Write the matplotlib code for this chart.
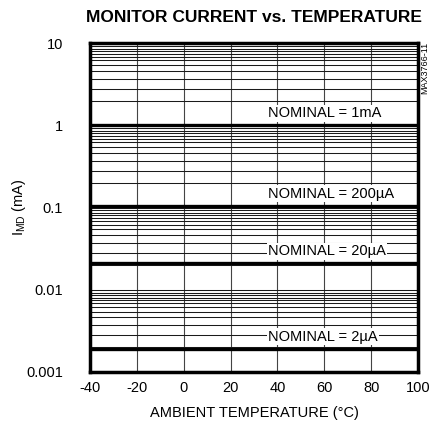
import matplotlib
matplotlib.use("Agg")
import matplotlib.pyplot as plt
from matplotlib.ticker import LogLocator, NullFormatter, FixedLocator
from matplotlib import font_manager
import numpy as np

names = {f.name for f in font_manager.fontManager.ttflist}
narrow = [n for n in ['Liberation Sans Narrow', 'Liberation Sans'] if n in names]
plt.rcParams['font.family'] = narrow + ['DejaVu Sans']
title_family = [n for n in ['DejaVu Sans Condensed', 'Liberation Sans Narrow', 'Liberation Sans'] if n in names] + ['DejaVu Sans']

# ---- data ----
temperature = [-40, -20, 0, 20, 40, 60, 80, 100]
nominal_labels = ["NOMINAL = 1mA", "NOMINAL = 200µA", "NOMINAL = 20µA", "NOMINAL = 2µA"]
current_1mA = [1.0, 1.0, 1.0, 1.0, 1.0, 1.0, 1.0, 1.0]
current_200uA = [0.105, 0.105, 0.105, 0.105, 0.105, 0.105, 0.105, 0.105]
current_20uA = [0.021, 0.021, 0.021, 0.021, 0.021, 0.021, 0.021, 0.021]
current_2uA = [0.0019, 0.0019, 0.0019, 0.0019, 0.0019, 0.0019, 0.0019, 0.0019]
x_ticks = [-40, -20, 0, 20, 40, 60, 80, 100]
y_ticks = [0.001, 0.01, 0.1, 1, 10]
y_ticklabels = ["0.001", "0.01", "0.1", "1", "10"]

series = [current_1mA, current_200uA, current_20uA, current_2uA]

fig = plt.figure(figsize=(4.32, 4.34), dpi=100)
ax = fig.add_axes([90/432, 1-371.7/434, 328/432, 328.4/434])

ax.set_yscale('log')
ax.set_xlim(-40, 100)
ax.set_ylim(0.001, 10)

# grid
ax.xaxis.set_major_locator(FixedLocator(x_ticks))
ax.set_xticklabels([str(t) for t in x_ticks])
ax.yaxis.set_major_locator(FixedLocator(y_ticks))
ax.set_yticklabels(y_ticklabels)
ax.yaxis.set_minor_locator(LogLocator(base=10, subs=[2, 2.8, 3.7, 4.6, 5.4, 6.2, 6.9, 7.5, 8.0, 8.6, 9.2]))
ax.yaxis.set_minor_formatter(NullFormatter())
ax.grid(True, axis='x', which='major', color='#444444', lw=0.8)
ax.grid(True, axis='y', which='both', color='#1a1a1a', lw=0.75)
ax.tick_params(axis='both', which='both', length=0)
ax.tick_params(axis='y', pad=19.5, labelsize=10.5)
ax.tick_params(axis='x', pad=7, labelsize=10.5)

for s in series:
    ax.plot(temperature, s, color='black', lw=2.4, solid_capstyle='butt', zorder=3)

for s, lab in zip(series, nominal_labels):
    ax.annotate(lab, xy=(36, s[0]), xytext=(0, 12), textcoords='offset pixels',
                ha='left', va='center', fontsize=10.5, zorder=4,
                bbox=dict(facecolor='white', edgecolor='none', pad=1.0))

for sp in ax.spines.values():
    sp.set_linewidth(2.5)
    sp.set_zorder(5)

ax.set_xlabel("AMBIENT TEMPERATURE (°C)", fontsize=10.5)
ax.xaxis.set_label_coords(0.5, -0.104)
ax.set_ylabel(r"I$_{\mathregular{MD}}$ (mA)", fontsize=10.5)
ax.yaxis.set_label_coords(-0.19, 0.5)

fig.text(254/432, 1-17/434, "MONITOR CURRENT vs. TEMPERATURE", ha='center', va='center',
         fontsize=12.5, fontweight='bold', family=title_family)
fig.text(425/432, 1-68/434, "MAX3766-11", rotation=90, ha='center', va='center', fontsize=6.5)

fig.savefig("out.png", dpi=100)
